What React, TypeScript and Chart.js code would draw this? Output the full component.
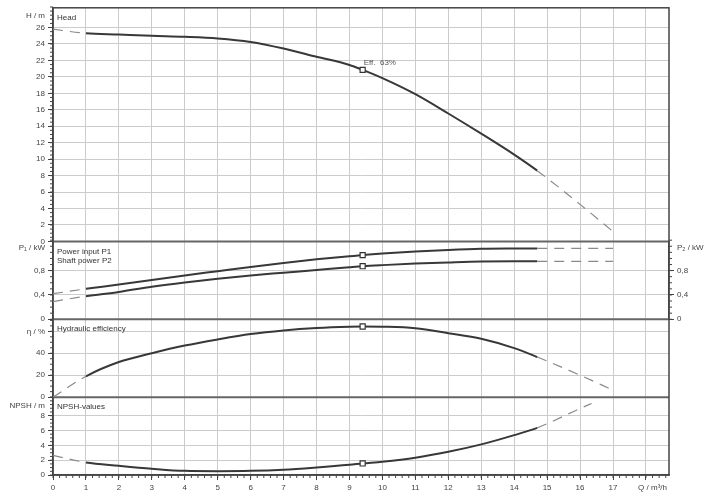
import { useEffect, useRef } from "react";
import { Chart, registerables, Plugin } from "chart.js";

Chart.register(...registerables);

// flow rate Q (m³/h) shared by head, power and efficiency curves
const flowQ = [0, 1, 2, 3, 4, 5, 6, 7, 8, 9, 9.4, 10, 11, 12, 13, 14, 14.7, 16, 17];
const headH = [25.8, 25.3, 25.15, 25.0, 24.88, 24.68, 24.25, 23.45, 22.45, 21.45, 20.85, 19.85, 17.9, 15.55, 13.1, 10.55, 8.6, 4.5, 1.2];
const powerP1 = [0.42, 0.5, 0.57, 0.645, 0.72, 0.79, 0.86, 0.925, 0.985, 1.035, 1.055, 1.08, 1.115, 1.14, 1.158, 1.163, 1.164, 1.164, 1.164];
const powerP2 = [0.29, 0.38, 0.45, 0.535, 0.605, 0.665, 0.72, 0.765, 0.81, 0.855, 0.872, 0.89, 0.915, 0.935, 0.95, 0.952, 0.952, 0.952, 0.952];
const effEta = [0, 19, 32, 40, 47, 52.6, 57.5, 60.8, 63, 64.2, 64.4, 64.2, 62.8, 58.3, 53.2, 44.7, 36.6, 20, 6.4];
// NPSH curve stops a bit earlier
const npshQ = [0, 1, 2, 3, 4, 5, 6, 7, 8, 9, 9.4, 10, 11, 12, 13, 14, 14.7, 16, 16.35];
const npshM = [2.65, 1.7, 1.25, 0.85, 0.56, 0.52, 0.56, 0.72, 1.02, 1.38, 1.56, 1.79, 2.33, 3.13, 4.13, 5.38, 6.36, 8.97, 9.64];

// tick labels
const flowTicks = [0, 1, 2, 3, 4, 5, 6, 7, 8, 9, 10, 11, 12, 13, 14, 15, 16, 17, 18];
const headTicks = [0, 2, 4, 6, 8, 10, 12, 14, 16, 18, 20, 22, 24, 26];
const powerTicks = [0, 0.4, 0.8];
const effTicks = [0, 20, 40, 60];
const npshTicks = [0, 2, 4, 6, 8];

const SOLID_FROM = 1;
const SOLID_TO = 14.7;
const DUTY_Q = 9.4;
const effNote = "Eff.  63%";

const FONT = { family: "'Liberation Sans', Arial, sans-serif", size: 8 };
const GRID = "#cccccc";
const AXIS = "#444444";
const NONE = "rgba(0,0,0,0)";

// minor tick step per scale
const minorSteps: Record<string, number> = { x: 0.2, yH: 0.5, yP: 0.1, yE: 5, yN: 0.5, rP: 0.1 };

const panelTitles: Record<string, string[]> = {
  yH: ["Head"],
  yP: ["Power input P1", "Shaft power P2"],
  yE: ["Hydraulic efficiency"],
  yN: ["NPSH-values"],
};

const near = (a: number, b: number) => Math.abs(a - b) < 1e-6;
const comma = (v: number) => String(v).replace(".", ",");

function valueAxis(
  position: "left" | "right",
  weight: number,
  max: number,
  majors: number[],
  titleAt: number,
  title: string,
  grid = true
) {
  const isMajor = (v: number) => majors.some((m) => near(m, v));
  return {
    type: "linear",
    position,
    stack: position,
    stackWeight: weight,
    min: 0,
    max,
    afterFit: (s: any) => {
      s.width = position === "left" ? 53 : 43;
    },
    afterBuildTicks: (s: any) => {
      const vals = isMajor(titleAt) ? majors : [...majors, titleAt];
      s.ticks = vals.map((value) => ({ value }));
    },
    grid: {
      drawOnChartArea: grid,
      color: (ctx: any) => (ctx.tick && isMajor(ctx.tick.value) ? GRID : NONE),
      tickColor: (ctx: any) => (ctx.tick && isMajor(ctx.tick.value) ? AXIS : NONE),
      tickLength: 5,
    },
    border: { color: AXIS, width: 1.5 },
    ticks: {
      autoSkip: false,
      padding: 3,
      color: AXIS,
      font: FONT,
      callback: (v: number) => (near(v, titleAt) ? title : isMajor(v) ? comma(v) : ""),
    },
  };
}

function blankAxis(weight: number) {
  return {
    type: "linear",
    position: "right",
    stack: "right",
    stackWeight: weight,
    min: 0,
    max: 1,
    afterFit: (s: any) => {
      s.width = 43;
    },
    grid: { display: false },
    border: { display: false },
    ticks: { display: false },
  };
}

const isDashed = (ctx: any) =>
  ctx.p0.parsed.x < SOLID_FROM - 1e-6 || ctx.p1.parsed.x > SOLID_TO + 1e-6;

function curve(label: string, xs: number[], ys: number[], axis: string) {
  return {
    label,
    yAxisID: axis,
    data: xs.map((x, i) => ({ x, y: ys[i] })),
    borderColor: "#383838",
    borderWidth: 2,
    cubicInterpolationMode: "monotone",
    pointStyle: "rect",
    pointRadius: (ctx: any) => (near(xs[ctx.dataIndex], DUTY_Q) ? 3.6 : 0),
    pointBackgroundColor: "#ffffff",
    pointBorderColor: "#333333",
    pointBorderWidth: 1.2,
    segment: {
      borderDash: (ctx: any) => (isDashed(ctx) ? [10, 7] : undefined),
      borderColor: (ctx: any) => (isDashed(ctx) ? "#8a8a8a" : undefined),
      borderWidth: (ctx: any) => (isDashed(ctx) ? 1.2 : undefined),
    },
  };
}

const decor: Plugin<"line"> = {
  id: "pumpDecor",
  beforeDatasetsDraw(chart) {
    const { ctx, chartArea: a, scales } = chart;
    ctx.save();
    // minor ticks
    ctx.strokeStyle = AXIS;
    ctx.lineWidth = 1;
    for (const [id, step] of Object.entries(minorSteps)) {
      const s: any = scales[id];
      if (!s) continue;
      const n = Math.round((s.max - s.min) / step);
      ctx.beginPath();
      for (let i = 0; i <= n; i++) {
        const p = s.getPixelForValue(s.min + i * step);
        if (s.position === "bottom") {
          ctx.moveTo(p, s.top);
          ctx.lineTo(p, s.top + 3);
        } else if (s.position === "left") {
          ctx.moveTo(s.right, p);
          ctx.lineTo(s.right - 3, p);
        } else {
          ctx.moveTo(s.left, p);
          ctx.lineTo(s.left + 3, p);
        }
      }
      ctx.stroke();
    }
    // panel separators
    ctx.strokeStyle = "#666666";
    ctx.lineWidth = 2;
    for (const id of ["yP", "yE", "yN"]) {
      const y = scales[id].top;
      ctx.beginPath();
      ctx.moveTo(a.left, y);
      ctx.lineTo(a.right, y);
      ctx.stroke();
    }
    // outer frame
    ctx.strokeStyle = AXIS;
    ctx.lineWidth = 1.5;
    ctx.strokeRect(a.left, a.top, a.right - a.left, a.bottom - a.top);
    // panel titles
    ctx.fillStyle = "#333333";
    ctx.font = `${FONT.size}px ${FONT.family}`;
    ctx.textAlign = "left";
    ctx.textBaseline = "middle";
    for (const [id, lines] of Object.entries(panelTitles)) {
      lines.forEach((t, k) => ctx.fillText(t, a.left + 4, scales[id].top + 10 + k * 9.5));
    }
    ctx.restore();
  },
  afterDatasetsDraw(chart) {
    const { ctx } = chart;
    const pt: any = chart.getDatasetMeta(0).data[flowQ.findIndex((q) => near(q, DUTY_Q))];
    if (!pt) return;
    ctx.save();
    ctx.fillStyle = "#555555";
    ctx.font = `${FONT.size}px ${FONT.family}`;
    ctx.textAlign = "left";
    ctx.textBaseline = "middle";
    ctx.fillText(effNote, pt.x + 1, pt.y - 7);
    ctx.restore();
  },
};

const PumpCurves = () => {
  const chartRef = useRef<HTMLCanvasElement>(null);
  const chartInstance = useRef<Chart | null>(null);

  useEffect(() => {
    if (!chartRef.current) return;
    if (chartInstance.current) chartInstance.current.destroy();

    const xMajor = (v: number) => flowTicks.some((m) => near(m, v));
    const Q_TITLE_AT = 18.2;

    chartInstance.current = new Chart(chartRef.current, {
      type: "line",
      data: {
        datasets: [
          curve("Head", flowQ, headH, "yH"),
          curve("Power input P1", flowQ, powerP1, "yP"),
          curve("Shaft power P2", flowQ, powerP2, "yP"),
          curve("Hydraulic efficiency", flowQ, effEta, "yE"),
          curve("NPSH-values", npshQ, npshM, "yN"),
        ] as any,
      },
      options: {
        responsive: false,
        animation: false,
        events: [],
        layout: { padding: { top: 6, left: 0, right: 0, bottom: 0 } },
        plugins: { legend: { display: false }, tooltip: { enabled: false } },
        scales: {
          x: {
            type: "linear",
            position: "bottom",
            min: 0,
            max: 18.7,
            afterFit: (s: any) => {
              s.height = 25;
            },
            afterBuildTicks: (s: any) => {
              s.ticks = [...flowTicks, Q_TITLE_AT].map((value) => ({ value }));
            },
            grid: {
              color: (ctx: any) => (ctx.tick && xMajor(ctx.tick.value) ? GRID : NONE),
              tickColor: (ctx: any) => (ctx.tick && xMajor(ctx.tick.value) ? AXIS : NONE),
              tickLength: 5,
            },
            border: { color: AXIS, width: 1.5 },
            ticks: {
              autoSkip: false,
              maxRotation: 0,
              padding: 3,
              color: AXIS,
              font: FONT,
              callback: (v: number) => (near(v, Q_TITLE_AT) ? "Q / m³/h" : v <= 17 ? String(v) : ""),
            },
          },
          // left stack is laid out from the last entry (top) down
          yN: valueAxis("left", 1, 10.5, npshTicks, 9.3, "NPSH / m"),
          yE: valueAxis("left", 1, 71, effTicks, 60, "η / %"),
          yP: valueAxis("left", 1, 1.28, powerTicks, 1.17, "P₁ / kW"),
          yH: valueAxis("left", 3, 28.4, headTicks, 27.4, "H / m"),
          // right stack is laid out from the first entry (top) down
          rH: blankAxis(3),
          rP: valueAxis("right", 1, 1.28, powerTicks, 1.17, "P₂ / kW", false),
          rE: blankAxis(1),
          rN: blankAxis(1),
        } as any,
      },
      plugins: [decor],
    });

    return () => {
      if (chartInstance.current) {
        chartInstance.current.destroy();
        chartInstance.current = null;
      }
    };
  }, []);

  return <canvas ref={chartRef} width={712} height={500} style={{ display: "block" }} />;
};

export default function App() {
  return (
    <div style={{ position: "absolute", left: 0, top: 0, width: 712, height: 500, background: "#fff" }}>
      <PumpCurves />
    </div>
  );
}
